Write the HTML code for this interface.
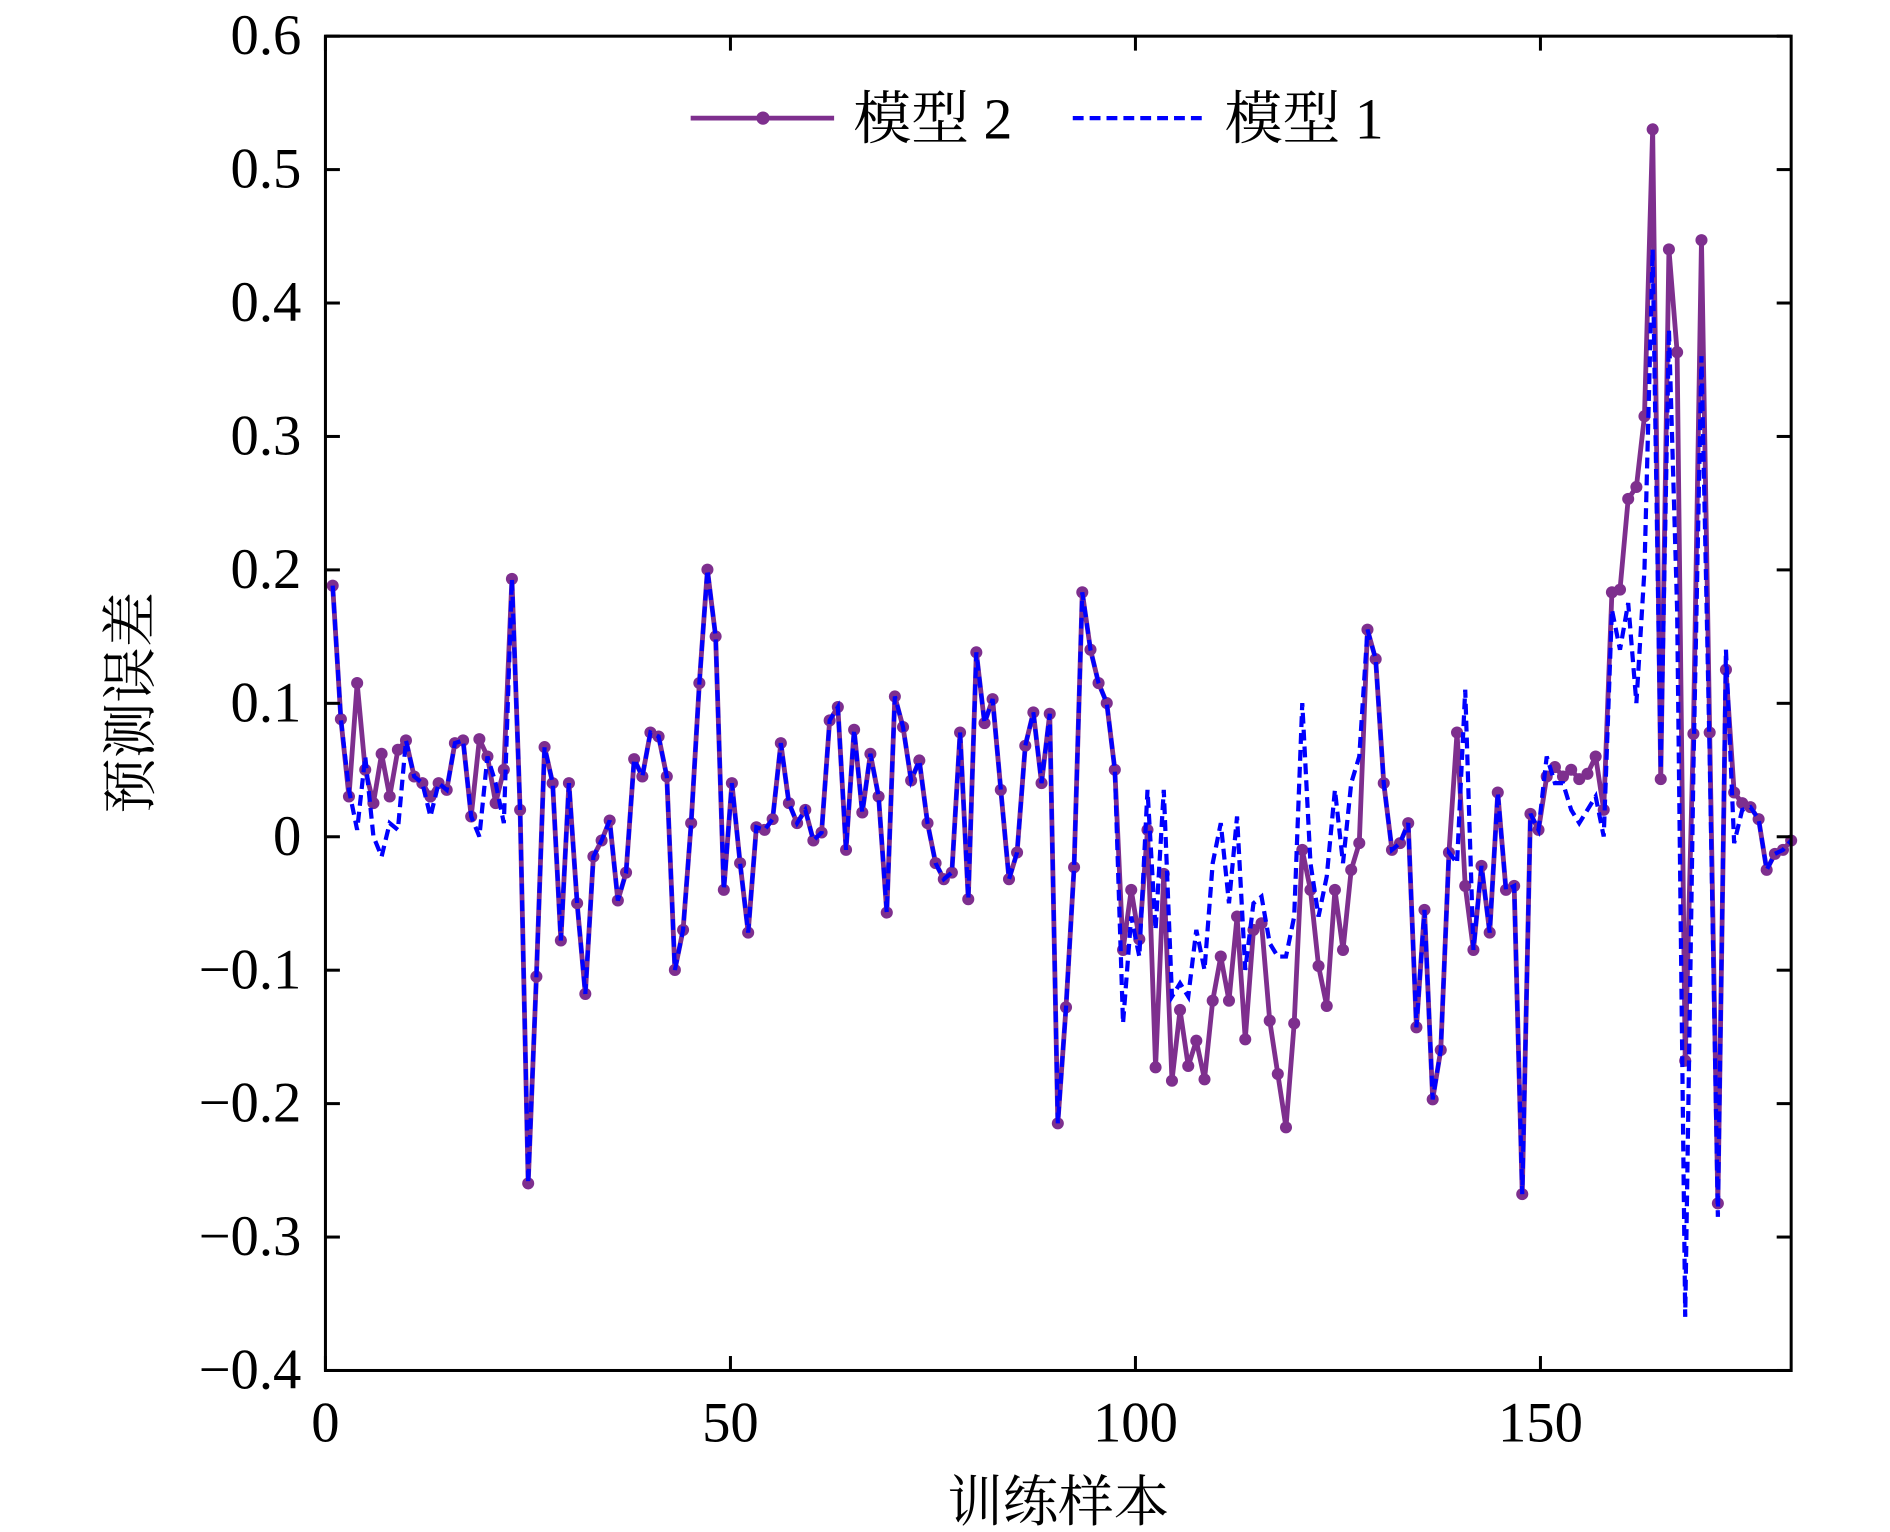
<!DOCTYPE html>
<html><head><meta charset="utf-8"><style>
html,body{margin:0;padding:0;background:#fff;}
svg{display:block;}
text{font-family:"Liberation Serif","Noto Serif CJK SC",serif;fill:#000;}
</style></head><body>
<svg id="s" width="1890" height="1532" viewBox="0 0 1568 1271" xmlns="http://www.w3.org/2000/svg">
<rect x="0" y="0" width="1568" height="1271" fill="#fff"/>
<g id="plot"></g>
<rect x="270" y="30" width="1216" height="1107" fill="none" stroke="#000" stroke-width="2.5"/>
<g id="ticks" stroke="#000" stroke-width="2.5"></g>
<g id="labels" font-size="47"></g>
<text x="878" y="1262" font-size="46" text-anchor="middle" font-family="Noto Serif CJK SC, serif">训练样本</text>
<text transform="translate(124,583) rotate(-90)" font-size="46" text-anchor="middle" font-family="Noto Serif CJK SC, serif">预测误差</text>
<line x1="573" y1="98" x2="692" y2="98" stroke="#7E2F8E" stroke-width="4"/>
<circle cx="633" cy="98" r="5.5" fill="#7E2F8E"/>
<text x="708" y="115" font-size="48"><tspan font-family="Noto Serif CJK SC, serif">模型</tspan> 2</text>
<line x1="890" y1="98" x2="1000" y2="98" stroke="#0000FF" stroke-width="3.5" stroke-dasharray="9,5"/>
<text x="1016" y="115" font-size="48"><tspan font-family="Noto Serif CJK SC, serif">模型</tspan> 1</text>
</svg>
<script>
var m2=[0.188,0.088,0.03,0.115,0.05,0.025,0.062,0.03,0.065,0.072,0.045,0.04,0.03,0.04,0.035,0.07,0.072,0.015,0.073,0.06,0.025,0.05,0.193,0.02,-0.26,-0.105,0.067,0.04,-0.078,0.04,-0.05,-0.118,-0.015,-0.003,0.012,-0.048,-0.027,0.058,0.045,0.078,0.075,0.045,-0.1,-0.07,0.01,0.115,0.2,0.15,-0.04,0.04,-0.02,-0.072,0.007,0.005,0.013,0.07,0.025,0.01,0.02,-0.003,0.003,0.087,0.097,-0.01,0.08,0.018,0.062,0.03,-0.057,0.105,0.082,0.042,0.057,0.01,-0.02,-0.032,-0.027,0.078,-0.047,0.138,0.085,0.103,0.035,-0.032,-0.012,0.068,0.093,0.04,0.092,-0.215,-0.128,-0.023,0.183,0.14,0.115,0.1,0.05,-0.085,-0.04,-0.077,0.005,-0.173,-0.028,-0.183,-0.13,-0.172,-0.153,-0.182,-0.123,-0.09,-0.123,-0.06,-0.152,-0.07,-0.065,-0.138,-0.178,-0.218,-0.14,-0.01,-0.04,-0.097,-0.127,-0.04,-0.085,-0.025,-0.005,0.155,0.133,0.04,-0.01,-0.005,0.01,-0.143,-0.055,-0.197,-0.16,-0.012,0.078,-0.037,-0.085,-0.022,-0.072,0.033,-0.04,-0.037,-0.268,0.017,0.005,0.045,0.052,0.045,0.05,0.043,0.047,0.06,0.02,0.183,0.185,0.253,0.262,0.315,0.53,0.043,0.44,0.363,-0.168,0.077,0.447,0.078,-0.275,0.125,0.033,0.025,0.022,0.013,-0.025,-0.013,-0.01,-0.003];
var m1=m2.slice();
var d={2:0.035,3:0.005,4:0.06,5:0.0,6:-0.015,7:0.01,8:0.005,12:0.015,18:0.0,19:0.06,20:0.04,21:0.01,
97:-0.14,98:-0.06,99:-0.09,100:0.035,101:-0.07,102:0.035,103:-0.12,104:-0.11,105:-0.12,106:-0.07,107:-0.1,108:-0.02,109:0.01,110:-0.05,111:0.015,112:-0.1,113:-0.05,114:-0.045,115:-0.08,116:-0.09,117:-0.09,118:-0.06,119:0.1,120:-0.02,121:-0.06,122:-0.03,123:0.035,124:-0.02,125:0.04,126:0.06,
138:-0.02,139:0.11,149:0.06,150:0.04,151:0.04,152:0.02,153:0.01,154:0.02,155:0.03,156:0.0,157:0.17,158:0.14,159:0.175,160:0.1,161:0.2,162:0.44,163:0.05,164:0.38,165:0.17,166:-0.36,167:0.05,168:0.36,169:0.06,170:-0.285,171:0.14,172:-0.005,173:0.02};
for(var k in d)m1[+k]=d[k];
var N=m2.length,X=function(i){return 276+i*(1486-276)/(N-1)},Y=function(v){return 694-v*1107};
var p2='',p1='',c='';
for(var i=0;i<N;i++){p2+=(i?'L':'M')+X(i).toFixed(1)+' '+Y(m2[i]).toFixed(1);p1+=(i?'L':'M')+X(i).toFixed(1)+' '+Y(m1[i]).toFixed(1);c+='<circle cx="'+X(i).toFixed(1)+'" cy="'+Y(m2[i]).toFixed(1)+'" r="5" fill="#7E2F8E"/>';}
document.getElementById('plot').innerHTML='<path d="'+p2+'" fill="none" stroke="#7E2F8E" stroke-width="4" stroke-linejoin="round"/>'+c+'<path d="'+p1+'" fill="none" stroke="#0000FF" stroke-width="3.5" stroke-dasharray="9,5"/>';
var t='',l='';
for(var j=0;j<=10;j++){var v=0.6-j*0.1,y=30+j*110.7;t+='<line x1="270" y1="'+y+'" x2="282" y2="'+y+'"/><line x1="1474" y1="'+y+'" x2="1486" y2="'+y+'"/>';
var s=Math.abs(v)<1e-9?'0':(v<0?'\u2212':'')+Math.abs(v).toFixed(1);l+='<text x="250" y="'+(y+15)+'" text-anchor="end">'+s+'</text>';}
for(var xv=0;xv<=150;xv+=50){var x=270+xv*6.72;t+='<line x1="'+x+'" y1="1137" x2="'+x+'" y2="1125"/><line x1="'+x+'" y1="30" x2="'+x+'" y2="42"/>';l+='<text x="'+x+'" y="1196" text-anchor="middle">'+xv+'</text>';}
document.getElementById('ticks').innerHTML=t;document.getElementById('labels').innerHTML=l;
</script>
</body></html>
